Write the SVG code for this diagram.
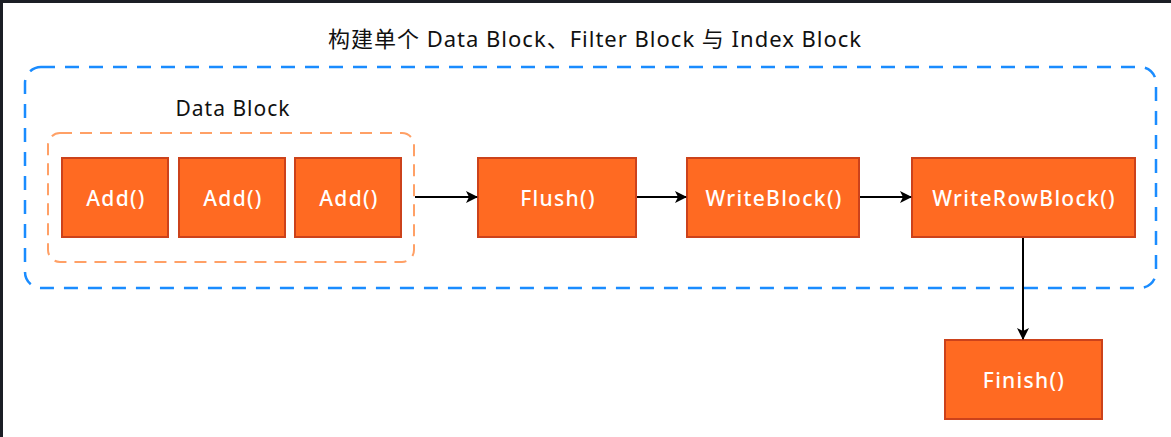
<svg xmlns="http://www.w3.org/2000/svg" width="1171" height="437" viewBox="0 0 1171 437">
<defs>
<style>
.node rect{fill:#FF6A22;stroke:#CC421B;stroke-width:2}
.node text{fill:#fff;font-family:"Noto Sans",sans-serif;font-size:21px;font-weight:500;letter-spacing:1.3px;text-anchor:middle;dominant-baseline:central}
.lbl{fill:#111;font-family:"Noto Sans","Noto Sans CJK SC",sans-serif;font-size:22px;letter-spacing:1px;text-anchor:middle;dominant-baseline:central}
.edge{stroke:#000;stroke-width:2;fill:none;marker-end:url(#arr)}
</style>
<marker id="arr" viewBox="0 0 12 12" refX="11" refY="6" markerWidth="12" markerHeight="12" markerUnits="userSpaceOnUse" orient="auto">
<path d="M0,0 L12,6 L0,12 L3,6 Z" fill="#000"/>
</marker>
</defs>
<rect x="0" y="0" width="1171" height="437" fill="#fff"/>
<rect x="0" y="0" width="1171" height="3" fill="#1b1e25"/>
<rect x="0" y="0" width="3" height="437" fill="#1b1e25"/>
<g id="title"><text class="lbl" x="595" y="38">构建单个 Data Block、Filter Block 与 Index Block</text></g>
<g id="outer-group"><rect x="25" y="67" width="1131" height="221" rx="16" fill="none" stroke="#1A8CFF" stroke-width="2.5" stroke-dasharray="14 10"/></g>
<g id="datablock-group"><rect x="48" y="133" width="366" height="129" rx="12" fill="none" stroke="#FFA066" stroke-width="2" stroke-dasharray="12 8"/>
<text class="lbl" x="233" y="108" style="font-size:21px">Data Block</text></g>
<g id="add1" class="node"><rect x="62" y="158" width="106" height="79"/><text x="116" y="198">Add()</text></g>
<g id="add2" class="node"><rect x="179" y="158" width="106" height="79"/><text x="233" y="198">Add()</text></g>
<g id="add3" class="node"><rect x="295" y="158" width="106" height="79"/><text x="349" y="198">Add()</text></g>
<g id="flush" class="node"><rect x="478" y="158" width="158" height="79"/><text x="558" y="198">Flush()</text></g>
<g id="writeblock" class="node"><rect x="687" y="158" width="172" height="79"/><text x="774" y="198">WriteBlock()</text></g>
<g id="writerowblock" class="node"><rect x="912" y="158" width="223" height="79"/><text x="1024" y="198">WriteRowBlock()</text></g>
<g id="finish" class="node"><rect x="945" y="340" width="157" height="79"/><text x="1024" y="380">Finish()</text></g>
<g id="connectors">
<line class="edge" x1="415" y1="197" x2="477" y2="197"/>
<line class="edge" x1="637" y1="197" x2="686" y2="197"/>
<line class="edge" x1="860" y1="197" x2="911" y2="197"/>
<line class="edge" x1="1023" y1="238" x2="1023" y2="339"/>
</g>
</svg>
